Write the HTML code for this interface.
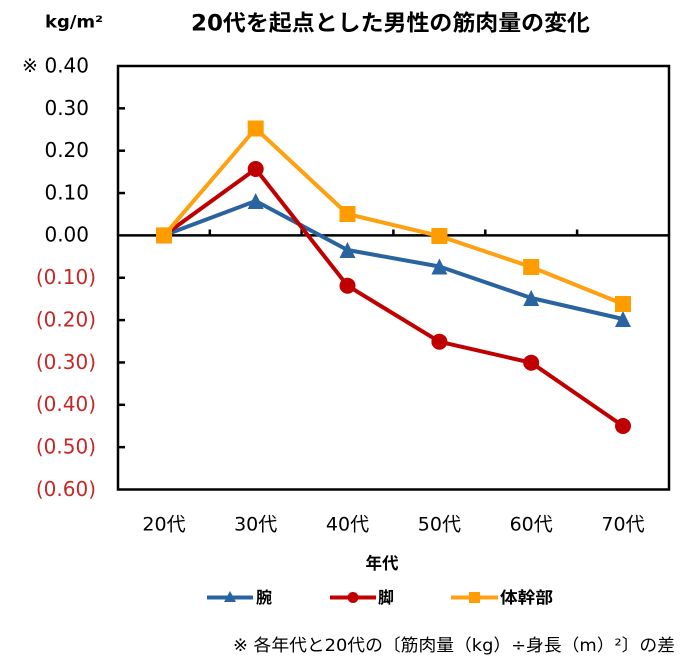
<!DOCTYPE html>
<html><head><meta charset="utf-8"><style>
html,body{margin:0;padding:0;background:#fff;}
svg{display:block;}
text{font-family:"DejaVu Sans","Noto Sans CJK JP",sans-serif;}
</style></head><body>
<svg width="689" height="666" viewBox="0 0 689 666" xmlns="http://www.w3.org/2000/svg">
<rect width="689" height="666" fill="#fff"/>
<!-- title -->
<text x="191" y="30.5" font-size="22" font-weight="bold" fill="#000" textLength="399" lengthAdjust="spacingAndGlyphs">20代を起点とした男性の筋肉量の変化</text>
<text x="45" y="27.5" font-size="16.5" font-weight="bold" fill="#000" textLength="58" lengthAdjust="spacingAndGlyphs">kg/m²</text>
<!-- y labels -->
<g font-size="20" text-anchor="end">
<text x="22" y="72" font-size="19" text-anchor="start" fill="#000">※</text>
<text x="89" y="72.5" fill="#000">0.40</text>
<text x="89" y="114.8" fill="#000">0.30</text>
<text x="89" y="157.1" fill="#000">0.20</text>
<text x="89" y="199.4" fill="#000">0.10</text>
<text x="89" y="241.7" fill="#000">0.00</text>
<g fill="#C62828">
<text x="96" y="284.1">(0.10)</text>
<text x="96" y="326.4">(0.20)</text>
<text x="96" y="368.8">(0.30)</text>
<text x="96" y="411.1">(0.40)</text>
<text x="96" y="453.5">(0.50)</text>
<text x="96" y="495.8">(0.60)</text>
</g>
</g>
<!-- plot frame -->
<rect x="118" y="66" width="551" height="423.5" fill="none" stroke="#000" stroke-width="2.5"/>
<!-- y ticks -->
<g stroke="#000" stroke-width="2.5">
<line x1="118" y1="108.35" x2="125" y2="108.35"/>
<line x1="118" y1="150.7" x2="125" y2="150.7"/>
<line x1="118" y1="193.05" x2="125" y2="193.05"/>
<line x1="118" y1="277.75" x2="125" y2="277.75"/>
<line x1="118" y1="320.1" x2="125" y2="320.1"/>
<line x1="118" y1="362.45" x2="125" y2="362.45"/>
<line x1="118" y1="404.8" x2="125" y2="404.8"/>
<line x1="118" y1="447.15" x2="125" y2="447.15"/>
<!-- zero line -->
<line x1="118" y1="235.4" x2="669" y2="235.4"/>
<!-- x ticks -->
<line x1="209.8" y1="235.4" x2="209.8" y2="229.5"/>
<line x1="301.6" y1="235.4" x2="301.6" y2="229.5"/>
<line x1="393.4" y1="235.4" x2="393.4" y2="229.5"/>
<line x1="485.3" y1="235.4" x2="485.3" y2="229.5"/>
<line x1="577.1" y1="235.4" x2="577.1" y2="229.5"/>
</g>
<!-- series: arm (blue) -->
<polyline fill="none" stroke="#2A64A0" stroke-width="4" stroke-linejoin="round" points="164,235.4 255.7,201 347.5,250 439.4,266.5 531.2,298 623,319"/>
<g fill="#2A64A0">
<polygon points="164,227.4 156,243.4 172,243.4"/>
<polygon points="255.7,193 247.7,209 263.7,209"/>
<polygon points="347.5,242 339.5,258 355.5,258"/>
<polygon points="439.4,258.5 431.4,274.5 447.4,274.5"/>
<polygon points="531.2,290 523.2,306 539.2,306"/>
<polygon points="623,311 615,327 631,327"/>
</g>
<!-- series: leg (red) -->
<polyline fill="none" stroke="#C00000" stroke-width="4" stroke-linejoin="round" points="164,235.4 255.7,169 347.5,285.7 439.4,341.7 531.2,362.7 623,426"/>
<g fill="#C00000">
<circle cx="164" cy="235.4" r="8"/>
<circle cx="255.7" cy="169" r="8"/>
<circle cx="347.5" cy="285.7" r="8"/>
<circle cx="439.4" cy="341.7" r="8"/>
<circle cx="531.2" cy="362.7" r="8"/>
<circle cx="623" cy="426" r="8"/>
</g>
<!-- series: trunk (orange) -->
<polyline fill="none" stroke="#FFA010" stroke-width="4" stroke-linejoin="round" points="164,235.4 255.7,128.5 347.5,214 439.4,236 531.2,267 623,304"/>
<g fill="#FF9C00">
<rect x="156" y="227.4" width="16" height="16"/>
<rect x="247.7" y="120.5" width="16" height="16"/>
<rect x="339.5" y="206" width="16" height="16"/>
<rect x="431.4" y="228" width="16" height="16"/>
<rect x="523.2" y="259" width="16" height="16"/>
<rect x="615" y="296" width="16" height="16"/>
</g>
<!-- x labels -->
<g font-size="19" text-anchor="middle" fill="#000">
<text x="164" y="530.5">20代</text>
<text x="255.7" y="530.5">30代</text>
<text x="347.5" y="530.5">40代</text>
<text x="439.4" y="530.5">50代</text>
<text x="531.2" y="530.5">60代</text>
<text x="623" y="530.5">70代</text>
</g>
<text x="382" y="569" font-size="16.5" font-weight="bold" text-anchor="middle" fill="#000">年代</text>
<!-- legend -->
<line x1="207" y1="597.5" x2="253" y2="597.5" stroke="#2A64A0" stroke-width="4"/>
<polygon points="230,591 224,602 236,602" fill="#2A64A0"/>
<text x="256" y="603" font-size="16" font-weight="bold" fill="#000">腕</text>
<line x1="330" y1="597.5" x2="376" y2="597.5" stroke="#C00000" stroke-width="4"/>
<circle cx="353" cy="597.5" r="5.5" fill="#C00000"/>
<text x="378" y="603" font-size="16" font-weight="bold" fill="#000">脚</text>
<line x1="451" y1="597.5" x2="498" y2="597.5" stroke="#FFA010" stroke-width="4"/>
<rect x="469" y="592" width="11" height="11" fill="#FF9C00"/>
<text x="500" y="603" font-size="16" font-weight="bold" fill="#000" textLength="53" lengthAdjust="spacingAndGlyphs">体幹部</text>
<!-- footnote -->
<text x="233" y="651" font-size="17" fill="#000" textLength="442" lengthAdjust="spacingAndGlyphs">※ 各年代と20代の〔筋肉量（kg）÷身長（m）²〕の差</text>
</svg>
</body></html>
